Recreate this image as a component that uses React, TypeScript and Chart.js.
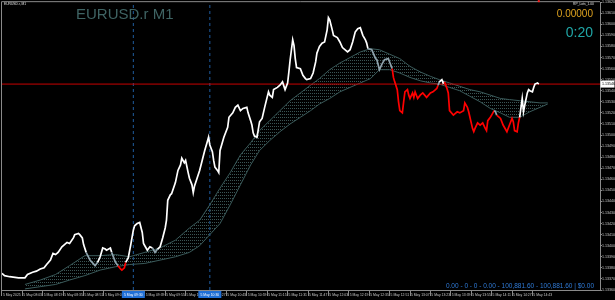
import React, { useEffect, useRef } from "react";
import { Chart, registerables } from "chart.js";
Chart.register(...registerables);

// minutes after 07:47 (5 May 2025), M1 closes
const priceTimes = [
  0, 2, 6, 13, 18, 20, 24, 27, 30, 33,
  35, 38, 40, 42, 44, 47, 49, 51, 53, 56,
  57, 60, 61, 63, 64, 66, 69, 73, 75, 77,
  79, 81, 82, 85, 86, 89, 91, 93, 94, 96,
  97, 99, 101, 103, 104, 106, 108, 110, 111, 112,
  114, 116, 118, 120, 122, 124, 126, 128, 129, 130,
  132, 133, 136, 138, 140, 141, 143, 144, 146, 147,
  149, 150, 151, 153, 155, 157, 159, 161, 162, 163,
  165, 166, 167, 169, 170, 171, 174, 177, 178, 181,
  183, 185, 187, 189, 192, 193, 195, 196, 197, 198,
  200, 202, 204, 206, 209, 210, 212, 213, 216, 218,
  220, 222, 224, 225, 226, 227, 228, 229, 230, 231,
  234, 236, 238, 239, 242, 244, 246, 247, 248, 249,
  251, 253, 255, 256, 257, 259, 260, 263, 265, 267,
  271, 273, 275, 277, 279, 281, 283, 285, 286, 287,
  290, 293, 294, 296, 298, 299, 300, 303, 304, 306,
  307, 308, 310, 311, 312, 314, 315, 316, 318, 319,
  320, 322, 323, 324, 326, 328, 330, 333, 336, 338,
  340, 341, 342, 343, 345, 346, 347, 349, 350, 351,
  354, 357, 359, 362, 363, 365, 366, 367, 369, 370,
  371, 373, 375, 377, 379, 380, 381, 383, 384, 386,
  387, 388, 391, 393, 396, 398, 400, 401, 402, 404,
  405, 406, 408, 409, 410, 412, 413, 414, 416, 417,
  418, 420, 421,
];

const prices = [
  1.13375, 1.13373, 1.13372, 1.13371, 1.13371, 1.13374, 1.13376, 1.13377, 1.13379, 1.1338,
  1.13383, 1.13387, 1.13393, 1.13392, 1.13394, 1.13399, 1.13401, 1.13403, 1.13402, 1.13407,
  1.1341, 1.13411, 1.1341, 1.13407, 1.13401, 1.13394, 1.13387, 1.13382, 1.13385, 1.1339,
  1.13398, 1.13397, 1.13396, 1.13398, 1.13394, 1.13385, 1.13382, 1.13379, 1.13378, 1.1338,
  1.13385, 1.13389, 1.13401, 1.13414, 1.13418, 1.1342, 1.13421, 1.13412, 1.13402, 1.134,
  1.13396, 1.13399, 1.13398, 1.13394, 1.13397, 1.13399, 1.13407, 1.13416, 1.13423, 1.13441,
  1.13446, 1.13447, 1.13457, 1.13468, 1.13473, 1.13479, 1.13475, 1.13477, 1.13466, 1.13461,
  1.13455, 1.13448, 1.13454, 1.13461, 1.13468, 1.13477, 1.13486, 1.13494, 1.13498, 1.13491,
  1.13485, 1.13477, 1.13471, 1.13468, 1.13466, 1.13486, 1.13498, 1.13507, 1.13516, 1.1352,
  1.13525, 1.13527, 1.13522, 1.13524, 1.13525, 1.1352, 1.13513, 1.13509, 1.13502, 1.13499,
  1.13498, 1.13512, 1.13515, 1.13525, 1.13539, 1.13536, 1.13534, 1.13541, 1.13543, 1.13545,
  1.13548, 1.13541, 1.13547, 1.13557, 1.13568, 1.13577, 1.13586, 1.13581, 1.13569, 1.13561,
  1.1356, 1.13554, 1.13551, 1.1355, 1.13551, 1.13556, 1.13566, 1.13574, 1.13577, 1.1358,
  1.13583, 1.13584, 1.13595, 1.13606, 1.13604, 1.13595, 1.1359, 1.13588, 1.13584, 1.13579,
  1.13575, 1.13577, 1.13584, 1.13593, 1.13596, 1.13597, 1.1359, 1.13586, 1.13583, 1.13578,
  1.13577, 1.13569, 1.13568, 1.13559, 1.13564, 1.13566, 1.13568, 1.13569, 1.13566, 1.1356,
  1.13552, 1.13548, 1.13541, 1.1353, 1.13522, 1.1352, 1.1353, 1.13539, 1.13541, 1.13536,
  1.13533, 1.13538, 1.13534, 1.13539, 1.13533, 1.13536, 1.13538, 1.13534, 1.13538, 1.13539,
  1.13541, 1.13542, 1.13545, 1.13548, 1.1355, 1.13547, 1.13548, 1.13542, 1.13538, 1.13522,
  1.13518, 1.13521, 1.1352, 1.13522, 1.13529, 1.13525, 1.13521, 1.13516, 1.13506, 1.13503,
  1.13506, 1.13511, 1.13509, 1.13511, 1.13506, 1.13504, 1.13513, 1.13516, 1.13518, 1.13522,
  1.13521, 1.13518, 1.13515, 1.13509, 1.13503, 1.13509, 1.13515, 1.13512, 1.13504, 1.13503,
  1.13511, 1.13516, 1.13533, 1.13521, 1.13527, 1.13538, 1.13541, 1.1354, 1.13539, 1.13543,
  1.13546, 1.13547, 1.13546,
];

// trend state of the price line from the given minute on
const trendChanges: [number, string][] = [
  [0, "up"], [66, "flat"], [75, "up"], [86, "flat"], [91, "down"], [97, "up"],
  [118, "flat"], [122, "up"], [287, "flat"], [306, "down"], [342, "flat"],
  [343, "up"], [347, "down"], [386, "flat"], [388, "down"], [406, "up"],
];

// shifted moving-average band
const bandTimes = [
  18, 30, 42, 53, 65, 77, 89, 100, 112, 124,
  136, 147, 155, 163, 171, 179, 187, 195, 202, 210,
  218, 226, 234, 242, 249, 257, 265, 273, 281, 289,
  296, 304, 312, 320, 328, 336, 343, 351, 359, 367,
  375, 383, 391, 398, 406, 414, 422, 428,
];
const fastMA = [
  1.13365, 1.13369, 1.13374, 1.13382, 1.13391, 1.13391, 1.13392, 1.1339, 1.13394, 1.13398,
  1.13405, 1.13416, 1.13423, 1.13437, 1.13452, 1.13466, 1.13482, 1.13493, 1.13504, 1.13513,
  1.13522, 1.13531, 1.13538, 1.13545, 1.13551, 1.13559, 1.13565, 1.1357, 1.13575, 1.13578,
  1.13577, 1.13573, 1.13569, 1.13562, 1.13557, 1.13553, 1.1355, 1.13547, 1.13544, 1.13541,
  1.13539, 1.13536, 1.13533, 1.13532, 1.13531, 1.1353, 1.13529, 1.13529,
];
const slowMA = [
  1.13361, 1.13363, 1.13365, 1.13369, 1.13373, 1.13378, 1.13381, 1.13383, 1.13384, 1.13387,
  1.1339, 1.13394, 1.134, 1.1341, 1.1342, 1.13437, 1.13455, 1.13473, 1.13486, 1.13495,
  1.13503, 1.1351, 1.13516, 1.13522, 1.13528, 1.13533, 1.13539, 1.13543, 1.13547, 1.13551,
  1.13559, 1.13559, 1.13556, 1.13552, 1.13549, 1.13547, 1.13546, 1.13543, 1.1354, 1.13535,
  1.1353, 1.13524, 1.1352, 1.13516, 1.13516, 1.13521, 1.13525, 1.13528,
];

const bidPrice = 1.13546;

const timeTickMinutes = [
  0, 16, 32, 48, 64, 80, 96, 112, 128, 144, 160, 176, 192, 208,
  224, 240, 256, 272, 288, 304, 320, 336, 352, 368, 384, 400, 416,
];
const timeLabels = [
  "5 May 2025", "5 May 08:03", "5 May 08:19", "5 May 08:35", "5 May 08:51",
  "5 May 09:07", "5 May 09:23", "5 May 09:39", "5 May 09:55", "5 May 10:11",
  "5 May 10:27", "5 May 10:43", "5 May 10:59", "5 May 11:15", "5 May 11:31",
  "5 May 11:47", "5 May 12:03", "5 May 12:19", "5 May 12:35", "5 May 12:51",
  "5 May 13:07", "5 May 13:23", "5 May 13:39", "5 May 13:55", "5 May 14:11",
  "5 May 14:27", "5 May 14:43",
];

const vlineMinutes = [103, 163];
const vlineLabels = ["5 May 09:30", "5 May 10:30"];

const priceTicks = [
  1.1362, 1.1361, 1.136, 1.1359, 1.1358, 1.1357, 1.1356, 1.1355, 1.1354,
  1.1353, 1.1352, 1.1351, 1.135, 1.1349, 1.1348, 1.1347, 1.1346, 1.1345,
  1.1344, 1.1343, 1.1342, 1.1341, 1.134, 1.1339, 1.1338, 1.1337, 1.1336,
];

const W = 615;
const H = 300;
const FONT = "'Liberation Sans', Arial, sans-serif";
const X_MIN = -0.78;
const X_MAX = 469;

const trendColors: Record<string, string> = {
  up: "#ffffff",
  flat: "#8fa3ad",
  down: "#ff0000",
};

function stateAt(t: number): string {
  let s = trendChanges[0][1];
  for (const [tt, ss] of trendChanges) if (t >= tt) s = ss;
  return s;
}

export default function App() {
  const ref = useRef<HTMLCanvasElement>(null);

  useEffect(() => {
    const canvas = ref.current!;
    const ctx = canvas.getContext("2d")!;

    const pc = document.createElement("canvas");
    pc.width = 2;
    pc.height = 3;
    const pg = pc.getContext("2d")!;
    pg.fillStyle = "rgb(58,84,84)";
    pg.fillRect(0, 0, 1, 1);
    const pattern = ctx.createPattern(pc, "repeat")!;

    const bgPlugin = {
      id: "bg",
      beforeDraw(c: any) {
        const g = c.ctx;
        g.save();
        g.fillStyle = "#000";
        g.fillRect(0, 0, c.width, c.height);
        g.restore();
      },
    };

    const overlayPlugin = {
      id: "overlay",
      afterDraw(c: any) {
        const g = c.ctx as CanvasRenderingContext2D;
        const a = c.chartArea;
        const xs = c.scales.x;
        const ys = c.scales.y;
        g.save();
        g.strokeStyle = "#8a8a8a";
        g.lineWidth = 1;
        g.beginPath();
        g.moveTo(a.left + 0.5, a.bottom);
        g.lineTo(a.left + 0.5, a.top - 0.5);
        g.lineTo(a.right, a.top - 0.5);
        g.stroke();
        g.font = `3.4px ${FONT}`;
        g.textAlign = "center";
        g.textBaseline = "middle";
        vlineMinutes.forEach((m, i) => {
          const px = xs.getPixelForValue(m);
          g.fillStyle = "#1f6fd6";
          g.fillRect(px - 11.5, a.bottom + 1, 23, 7);
          g.fillStyle = "#ffffff";
          g.fillText(vlineLabels[i], px, a.bottom + 4.6);
        });
        const py = ys.getPixelForValue(bidPrice);
        g.fillStyle = "#ffffff";
        g.fillRect(a.right + 0.5, py - 3.5, 14, 7);
        g.fillStyle = "#000000";
        g.font = `3.6px ${FONT}`;
        g.textAlign = "left";
        g.fillText(bidPrice.toFixed(5), a.right + 2, py + 0.2);
        const lx = xs.getPixelForValue(priceTimes[priceTimes.length - 1]);
        g.fillStyle = "#ff2020";
        g.fillRect(lx - 1, a.top - 2, 2, 2);
        g.restore();
      },
    };

    const chart = new Chart(ctx, {
      type: "line",
      data: {
        datasets: [
          {
            data: priceTimes.map((t, i) => ({ x: t, y: prices[i] })),
            borderColor: "#ffffff",
            borderWidth: 1.7,
            pointRadius: 0,
            tension: 0,
            fill: false,
            order: 0,
            segment: {
              borderColor: (sc: any) => trendColors[stateAt(priceTimes[sc.p0DataIndex])],
            },
          } as any,
          {
            data: [
              { x: X_MIN, y: bidPrice },
              { x: X_MAX, y: bidPrice },
            ],
            borderColor: "#c80000",
            borderWidth: 1,
            pointRadius: 0,
            fill: false,
            order: 1,
          },
          {
            data: bandTimes.map((t, i) => ({ x: t, y: fastMA[i] })),
            borderColor: "#3a5a5a",
            borderWidth: 1,
            pointRadius: 0,
            tension: 0,
            fill: false,
            order: 2,
          },
          {
            data: bandTimes.map((t, i) => ({ x: t, y: slowMA[i] })),
            borderColor: "#3a5a5a",
            borderWidth: 1,
            pointRadius: 0,
            tension: 0,
            fill: "-1",
            backgroundColor: pattern as any,
            order: 3,
          },
          ...vlineMinutes.map((m) => ({
            data: [
              { x: m, y: priceTicks[priceTicks.length - 1] },
              { x: m, y: priceTicks[0] },
            ],
            borderColor: "#1f5c9e",
            borderWidth: 1,
            borderDash: [3, 3],
            pointRadius: 0,
            fill: false,
            order: 4,
          })),
        ],
      },
      options: {
        animation: false,
        responsive: false,
        devicePixelRatio: 1,
        events: [],
        layout: { padding: { left: 1, top: 2, right: 0, bottom: 0 } },
        plugins: {
          legend: { display: false },
          tooltip: { enabled: false },
          title: { display: false },
        },
        scales: {
          x: {
            type: "linear",
            position: "bottom",
            min: X_MIN,
            max: X_MAX,
            afterBuildTicks: (s: any) => {
              s.ticks = timeTickMinutes.map((v) => ({ value: v }));
            },
            afterFit: (s: any) => {
              s.height = 10;
            },
            ticks: {
              autoSkip: false,
              maxRotation: 0,
              minRotation: 0,
              align: "start",
              padding: -3,
              color: "#c8c8c8",
              font: { family: FONT, size: 3.4 },
              callback: (_v: any, i: number) => " " + timeLabels[i],
            },
            grid: {
              drawOnChartArea: false,
              drawTicks: true,
              tickLength: 6,
              color: "#8a8a8a",
            },
            border: { display: true, color: "#8a8a8a" },
          },
          y: {
            type: "linear",
            position: "right",
            min: priceTicks[priceTicks.length - 1],
            max: priceTicks[0],
            afterBuildTicks: (s: any) => {
              s.ticks = priceTicks.map((v) => ({ value: v }));
            },
            afterFit: (s: any) => {
              s.width = 15;
            },
            ticks: {
              autoSkip: false,
              padding: 0,
              color: "#c8c8c8",
              font: { family: FONT, size: 3.6 },
              callback: (v: any) => Number(v).toFixed(5),
            },
            grid: {
              drawOnChartArea: false,
              drawTicks: true,
              tickLength: 2,
              color: "#8a8a8a",
            },
            border: { display: true, color: "#8a8a8a" },
          },
        },
      } as any,
      plugins: [bgPlugin, overlayPlugin],
    });
    return () => chart.destroy();
  }, []);

  const tiny: React.CSSProperties = {
    position: "absolute",
    fontFamily: FONT,
    fontSize: 10,
    lineHeight: "10px",
    whiteSpace: "nowrap",
    transform: "scale(0.33)",
    transformOrigin: "top left",
    color: "#e0e0e0",
  };

  const label = (extra: React.CSSProperties): React.CSSProperties => ({
    position: "absolute",
    fontFamily: FONT,
    whiteSpace: "nowrap",
    ...extra,
  });

  return (
    <div
      style={{
        position: "fixed",
        left: 0,
        top: 0,
        width: W,
        height: H,
        background: "#000",
        overflow: "hidden",
      }}
    >
      <canvas ref={ref} width={W} height={H} style={{ display: "block", width: W, height: H }} />
      <div style={{ ...tiny, left: 4, top: 2.3 }}>EURUSD.r, M1</div>
      <div style={{ ...tiny, left: 573, top: 1.8 }}>RP_Lots_1.00</div>
      <div style={label({ left: 76, top: 6, fontSize: 15, lineHeight: "15px", color: "#3f6464" })}>
        EURUSD.r M1
      </div>
      <div style={label({ right: 22, top: 8.6, fontSize: 10, lineHeight: "10px", color: "#dea21f" })}>
        0.00000
      </div>
      <div style={label({ right: 22, top: 24.6, fontSize: 14, lineHeight: "14px", color: "#20a6a6" })}>
        0:20
      </div>
      <div style={label({ right: 21, top: 282.6, fontSize: 6.5, lineHeight: "6.5px", color: "#2f7ad6" })}>
        0.00 - 0 - 0 - 0.00 - 100,881.60 - 100,881.60 | $0.00
      </div>
    </div>
  );
}
